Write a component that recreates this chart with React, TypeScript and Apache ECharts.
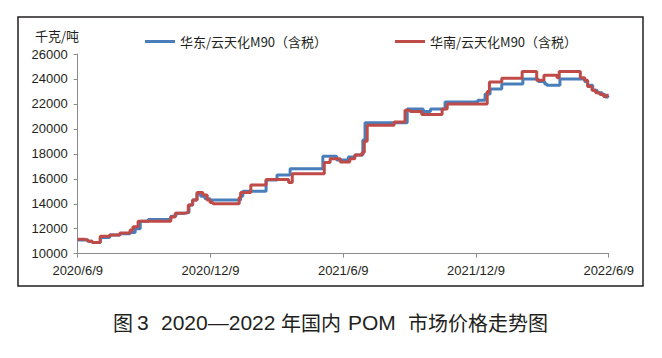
import React, { useEffect, useRef } from "react";
import * as echarts from "echarts";

// Days since 2020/6/9 at which each price level begins, and the level (yuan/ton)
const eastDays = [0, 14, 20, 31, 44, 58, 72, 79, 86, 97, 128, 135, 147, 153, 158, 164, 169, 175, 182, 224, 227, 259, 274, 292, 337, 356, 372, 381, 392, 395, 453, 475, 485, 505, 550, 560, 567, 583, 612, 633, 642, 645, 663, 697, 701, 708, 714, 721, 725, 729, 730];
const eastPrices = [11100, 11000, 10900, 11300, 11500, 11600, 11700, 12000, 12600, 12750, 13000, 13250, 13300, 13900, 14300, 14800, 14600, 14400, 14300, 14600, 15000, 15900, 16300, 16800, 17800, 17500, 17750, 17900, 19100, 20500, 21600, 21400, 21600, 22150, 22300, 22800, 23200, 23600, 24000, 23800, 23600, 23500, 24000, 23800, 23500, 23100, 22900, 22750, 22550, 22500, 22500];

const southDays = [0, 10, 14, 20, 31, 44, 58, 72, 76, 83, 128, 134, 147, 152, 158, 164, 172, 178, 182, 186, 222, 224, 238, 259, 290, 295, 339, 347, 361, 374, 381, 391, 394, 398, 435, 450, 457, 473, 501, 508, 563, 566, 583, 611, 631, 641, 659, 662, 691, 697, 701, 707, 712, 718, 723, 727, 730];
const southPrices = [11150, 11100, 11000, 10900, 11400, 11500, 11650, 11900, 12150, 12600, 12950, 13250, 13300, 13900, 14300, 14900, 14700, 14300, 14100, 14000, 14500, 14900, 15500, 15950, 15700, 16400, 17300, 17600, 17350, 17600, 17900, 18100, 19000, 20300, 20550, 21500, 21400, 21150, 21600, 22000, 23000, 23750, 24050, 24600, 23900, 24300, 24100, 24600, 24100, 23900, 23400, 23100, 22900, 22750, 22600, 22700, 22750];

const xTickLabels = ["2020/6/9", "2020/12/9", "2021/6/9", "2021/12/9", "2022/6/9"];
const seriesNames = ["华东/云天化M90（含税）", "华南/云天化M90（含税）"];
const yUnit = "千克/吨";
const captionParts = ["图", "3", "2020—2022", "年国内", "POM", "市场价格走势图"];

const TEXT = "#231f20";
const AXIS = "#8c8c8c";
const CJK = "'Noto Sans CJK SC', 'Noto Sans', sans-serif";
const LAT = "'Liberation Sans', Arial, sans-serif";

export default function App() {
  const ref = useRef<HTMLDivElement>(null);
  useEffect(() => {
    if (!ref.current) return;
    const chart = echarts.init(ref.current, undefined, { renderer: "svg" });
    const pair = (d: number[], v: number[]) => d.map((x, i) => [x, v[i]]);
    const captionX = [113, 137, 161, 281, 348, 408];
    const captionLatin = [false, true, true, false, true, false];
    chart.setOption({
      animation: false,
      backgroundColor: "#ffffff",
      grid: { left: 77.7, right: 53.3, top: 54, bottom: 104.3, containLabel: false },
      legend: [
        {
          left: 145, top: 35, padding: 0, itemWidth: 30, itemHeight: 3, icon: "rect",
          data: [seriesNames[0]],
          textStyle: { fontSize: 13, fontFamily: CJK, color: TEXT },
        },
        {
          left: 395, top: 35, padding: 0, itemWidth: 30, itemHeight: 3, icon: "rect",
          data: [seriesNames[1]],
          textStyle: { fontSize: 13, fontFamily: CJK, color: TEXT },
        },
      ],
      xAxis: {
        type: "value", min: 0, max: 730, interval: 182.5,
        axisLine: { lineStyle: { color: AXIS, width: 1 } },
        axisTick: { show: true, length: 4, lineStyle: { color: AXIS } },
        splitLine: { show: false },
        axisLabel: {
          margin: 10, color: TEXT, fontSize: 13, fontFamily: LAT,
          formatter: (v: number) => xTickLabels[Math.round(v / 182.5)] ?? "",
        },
      },
      yAxis: {
        type: "value", min: 10000, max: 26000, interval: 2000,
        axisLine: { show: true, lineStyle: { color: AXIS, width: 1 } },
        axisTick: { show: true, length: 4, lineStyle: { color: AXIS } },
        splitLine: { show: false },
        axisLabel: { margin: 10, color: TEXT, fontSize: 13, fontFamily: LAT, formatter: (v: number) => String(v) },
      },
      series: [
        {
          name: seriesNames[0], type: "line", step: "end", showSymbol: false, symbol: "none",
          data: pair(eastDays, eastPrices), itemStyle: { color: "#4a7ebb" },
          lineStyle: { color: "#4a7ebb", width: 3 },
        },
        {
          name: seriesNames[1], type: "line", step: "end", showSymbol: false, symbol: "none",
          data: pair(southDays, southPrices), itemStyle: { color: "#be4b48" },
          lineStyle: { color: "#be4b48", width: 3 },
        },
      ],
      graphic: [
        {
          type: "rect", shape: { x: 18, y: 17, width: 625, height: 269 },
          style: { fill: "none", stroke: TEXT, lineWidth: 1.5 },
        },
        {
          type: "text", x: 57, y: 35,
          style: { text: yUnit, fontSize: 13, fontFamily: CJK, fill: TEXT, textAlign: "center", textVerticalAlign: "middle" },
        },
        ...captionParts.map((t, i) => ({
          type: "text", x: captionX[i], y: 322,
          style: {
            text: t, fontSize: captionLatin[i] ? 21 : 20, fontFamily: captionLatin[i] ? LAT : CJK,
            fill: TEXT, textAlign: "left", textVerticalAlign: "middle",
          },
        })),
      ],
    });
    return () => chart.dispose();
  }, []);
  return <div ref={ref} style={{ width: 662, height: 358, position: "absolute", left: 0, top: 0 }} />;
}
